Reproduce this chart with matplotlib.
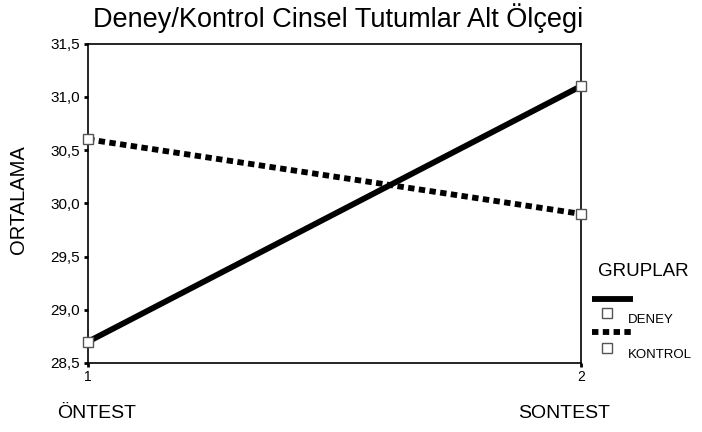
import matplotlib
matplotlib.use("Agg")
import matplotlib.pyplot as plt
from matplotlib.lines import Line2D

plt.rcParams['font.family'] = ['Liberation Sans', 'DejaVu Sans']

# veriler
zaman = [1, 2]
deney = [28.70, 31.10]
kontrol = [30.60, 29.90]
y_ticks = [28.5, 29.0, 29.5, 30.0, 30.5, 31.0, 31.5]
y_labels = ["28,5", "29,0", "29,5", "30,0", "30,5", "31,0", "31,5"]

fig = plt.figure(figsize=(7.02, 4.32), dpi=100)
ax = fig.add_axes([88 / 702, 1 - 363 / 432, (581 - 88) / 702, (363 - 43.5) / 432])

ax.plot(zaman, deney, color="black", lw=4.2, solid_capstyle="butt", zorder=3)
ax.plot(zaman, kontrol, color="black", lw=4.2, ls=(0, (1.1, 0.75)),
        dash_capstyle="butt", zorder=3)
for seri in (deney, kontrol):
    ax.plot(zaman, seri, ls="none", marker="s", ms=6.5, mfc="white",
            mec="#555555", mew=1, clip_on=False, zorder=4)

ax.set_xlim(1, 2)
ax.set_ylim(28.5, 31.5)
ax.set_xticks(zaman)
ax.set_xticklabels(["1", "2"], fontsize=10)
ax.set_yticks(y_ticks)
ax.set_yticklabels(y_labels, fontsize=11)
ax.tick_params(direction="out", length=3, width=2, pad=3)
ax.tick_params(axis="x", pad=2)
for s in ax.spines.values():
    s.set_linewidth(1.2)

fig.text(19 / 702, 1 - 200 / 432, "ORTALAMA", rotation=90, ha="center",
         va="center", fontsize=14.5)
fig.text(338 / 702, 1 - 18 / 432, "Deney/Kontrol Cinsel Tutumlar Alt Ölçegi",
         ha="center", va="center", fontsize=19.5)
fig.text(97 / 702, 1 - 413 / 432, "ÖNTEST", ha="center", va="center", fontsize=14)
fig.text(564 / 702, 1 - 413 / 432, "SONTEST", ha="center", va="center", fontsize=14)

# lejant
fig.text(643 / 702, 1 - 272 / 432, "GRUPLAR", ha="center", va="center", fontsize=13.5)
fig.add_artist(Line2D([592 / 702, 633 / 702], [1 - 299 / 432] * 2, color="black",
                      lw=4.2, solid_capstyle="butt", transform=fig.transFigure))
fig.add_artist(Line2D([592 / 702, 633 / 702], [1 - 332 / 432] * 2, color="black",
                      lw=4.2, ls=(0, (1.1, 0.75)), dash_capstyle="butt",
                      transform=fig.transFigure))
for yy in (313, 348):
    fig.add_artist(Line2D([607 / 702], [1 - yy / 432], ls="none", marker="s", ms=6.5,
                          mfc="white", mec="#555555", mew=1,
                          transform=fig.transFigure))
fig.text(628 / 702, 1 - 320 / 432, "DENEY", ha="left", va="center", fontsize=9.5)
fig.text(628 / 702, 1 - 355 / 432, "KONTROL", ha="left", va="center", fontsize=9.5)

fig.savefig("out.png", dpi=100)
